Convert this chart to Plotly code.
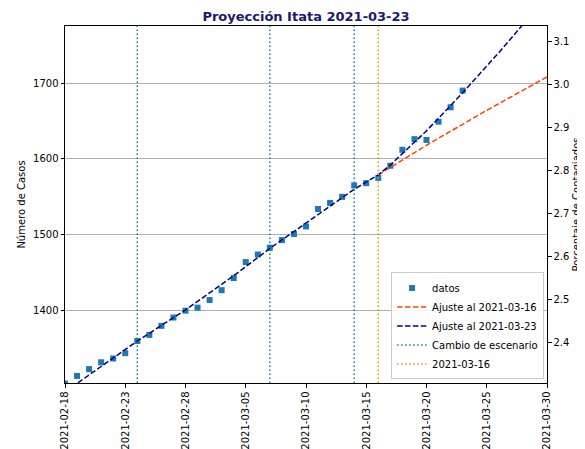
import plotly.graph_objects as go

# ---- data ----
fechas = ['2021-02-18', '2021-02-19', '2021-02-20', '2021-02-21', '2021-02-22', '2021-02-23',
          '2021-02-24', '2021-02-25', '2021-02-26', '2021-02-27', '2021-02-28', '2021-03-01',
          '2021-03-02', '2021-03-03', '2021-03-04', '2021-03-05', '2021-03-06', '2021-03-07',
          '2021-03-08', '2021-03-09', '2021-03-10', '2021-03-11', '2021-03-12', '2021-03-13',
          '2021-03-14', '2021-03-15', '2021-03-16', '2021-03-17', '2021-03-18', '2021-03-19',
          '2021-03-20', '2021-03-21', '2021-03-22', '2021-03-23']
casos = [1304, 1314, 1323, 1332, 1337, 1344, 1360, 1368, 1380, 1391, 1400, 1404,
         1414, 1427, 1443, 1464, 1474, 1483, 1493, 1501, 1511, 1534, 1542, 1550,
         1565, 1568, 1575, 1591, 1612, 1626, 1625, 1649, 1668, 1690]

ajuste16_fechas = ['2021-03-16', '2021-03-20', '2021-03-25', '2021-03-30']
ajuste16_casos = [1579, 1618, 1664, 1708]

ajuste23_fechas = ['2021-02-18', '2021-02-21', '2021-02-24', '2021-02-28', '2021-03-04',
                   '2021-03-07', '2021-03-10', '2021-03-14', '2021-03-16', '2021-03-17',
                   '2021-03-18', '2021-03-20', '2021-03-23', '2021-03-26', '2021-03-30']
ajuste23_casos = [1293, 1327, 1360, 1401, 1446, 1482, 1515, 1560, 1579, 1592,
                  1607, 1637, 1687, 1740, 1814]

cambios_escenario = ['2021-02-24', '2021-03-07', '2021-03-14']
fecha_ajuste = '2021-03-16'

poblacion = 56600  # percentage axis = casos / poblacion * 100

x_ticks = ['2021-02-18', '2021-02-23', '2021-02-28', '2021-03-05', '2021-03-10',
           '2021-03-15', '2021-03-20', '2021-03-25', '2021-03-30']
y_ticks = [1400, 1500, 1600, 1700]
y2_ticks = [2.4, 2.5, 2.6, 2.7, 2.8, 2.9, 3.0, 3.1]

y_range = [1304.7, 1775.1]
x_range = ['2021-02-18', '2021-03-30']

FONT = 'DejaVu Sans'
W, H = 577, 441  # page body has an 8px margin

fig = go.Figure()

fig.add_trace(go.Scatter(
    x=fechas, y=casos, mode='markers', name='datos',
    marker=dict(symbol='square', size=6, color='#1f77b4')))

fig.add_trace(go.Scatter(
    x=ajuste16_fechas, y=ajuste16_casos, mode='lines', name='Ajuste al 2021-03-16',
    line=dict(color='#ff4500', width=1.5, dash='5.5px,2.4px')))

fig.add_trace(go.Scatter(
    x=ajuste23_fechas, y=ajuste23_casos, mode='lines', name='Ajuste al 2021-03-23',
    line=dict(color='#000080', width=1.5, dash='5.5px,2.4px')))

vx, vy = [], []
for d in cambios_escenario:
    vx += [d, d, None]
    vy += [y_range[0], y_range[1], None]
fig.add_trace(go.Scatter(
    x=vx, y=vy, mode='lines', name='Cambio de escenario',
    line=dict(color='#008b8b', width=1.5, dash='1.5px,2.5px')))

fig.add_trace(go.Scatter(
    x=[fecha_ajuste, fecha_ajuste], y=y_range, mode='lines', name='2021-03-16',
    line=dict(color='#ff8c00', width=1.5, dash='1.5px,2.5px')))

# invisible trace on the percentage axis
fig.add_trace(go.Scatter(
    x=fechas, y=[c / poblacion * 100 for c in casos], yaxis='y2', mode='markers',
    marker=dict(opacity=0), showlegend=False, hoverinfo='skip'))

fig.update_layout(
    width=W, height=H,
    margin=dict(l=57, r=38, t=18, b=66, autoexpand=False),
    plot_bgcolor='white', paper_bgcolor='white',
    font=dict(family=FONT, size=10, color='black'),
    title=dict(text='<b>Proyección Itata 2021-03-23</b>', x=298 / W, xanchor='center',
               xref='container', yref='container',
               y=1 - 8 / H, yanchor='middle', automargin=False,
               font=dict(family=FONT, size=13, color='#191970')),
    showlegend=True,
    legend=dict(x=0.994, xanchor='right', y=0.01, yanchor='bottom',
                bgcolor='rgba(255,255,255,0.85)', bordercolor='#cccccc', borderwidth=1,
                font=dict(family=FONT, size=10), itemwidth=30, tracegroupgap=0),
    xaxis=dict(type='date', range=x_range, tickvals=x_ticks, ticktext=x_ticks,
               tickangle=-90, ticks='outside', ticklen=3.5, tickcolor='black',
               showline=True, linecolor='black', linewidth=1, mirror=True,
               showgrid=False, zeroline=False, tickfont=dict(size=10), automargin=False),
    yaxis=dict(range=y_range, tickvals=y_ticks, ticks='outside', ticklen=3.5,
               tickcolor='black', showline=True, linecolor='black', linewidth=1,
               showgrid=True, gridcolor='#b0b0b0', gridwidth=0.8, zeroline=False,
               title=dict(text='Número de Casos', font=dict(size=10), standoff=5),
               tickfont=dict(size=10), automargin=False),
    yaxis2=dict(overlaying='y', side='right',
                range=[y_range[0] / poblacion * 100, y_range[1] / poblacion * 100],
                tickvals=y2_ticks, ticktext=[f'{v:.1f}' for v in y2_ticks],
                ticks='outside', ticklen=3.5, tickcolor='black',
                showline=True, linecolor='black', linewidth=1,
                showgrid=False, zeroline=False,
                title=dict(text='Porcentaje de Contagiados', font=dict(size=10), standoff=4),
                tickfont=dict(size=10), automargin=False),
)

fig.write_html('out.html')
